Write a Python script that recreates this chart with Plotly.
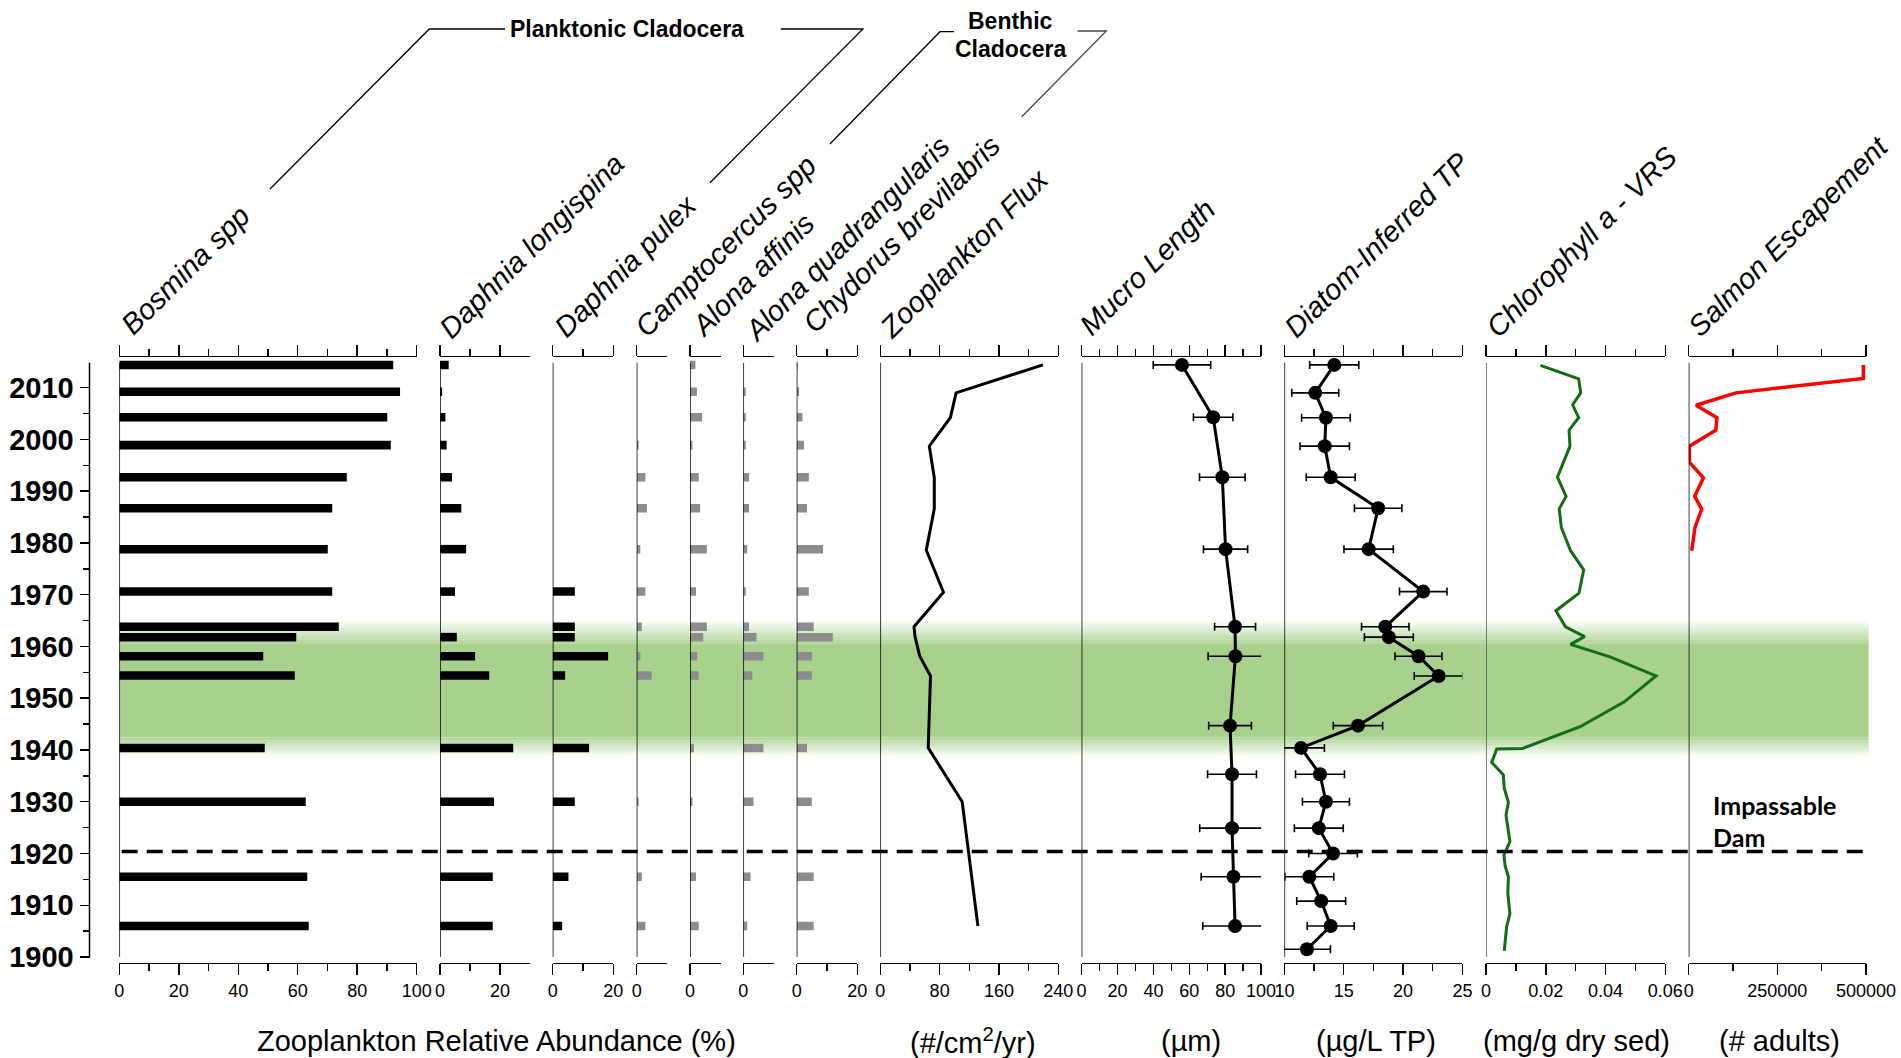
import plotly.graph_objects as go

W, H = 1901, 1058
FONT = "Liberation Sans, Arial, sans-serif"

# ---------------- data ----------------
years_zoo = [2014.4, 2009.2, 2004.3, 1998.9, 1992.7, 1986.7, 1978.8, 1970.6,
             1963.8, 1961.8, 1958.1, 1954.4, 1940.4, 1930.0, 1915.5, 1906.0]
bosmina = [92.1, 94.4, 90.1, 91.3, 76.5, 71.6, 70.1, 71.6, 73.8, 59.5, 48.4, 59.0, 48.9, 62.7, 63.2, 63.7]
daphnia_longispina = [2.9, 0.7, 1.8, 2.2, 4.0, 7.1, 8.7, 5.0, 0, 5.6, 11.7, 16.4, 24.4, 18.0, 17.6, 17.6]
daphnia_pulex = [0, 0, 0, 0, 0, 0, 0, 7.3, 7.3, 7.3, 18.3, 4.1, 12.0, 7.3, 5.2, 3.1]
camptocercus = [0, 0, 0, 0.65, 2.9, 3.4, 1.2, 2.9, 1.7, 0, 1.2, 5.0, 0, 0.65, 1.7, 2.9]
alona_affinis = [1.8, 2.3, 4.0, 0.8, 2.9, 3.4, 5.6, 2.0, 5.6, 4.4, 2.4, 2.9, 1.3, 0.8, 2.0, 2.9]
alona_quadrangularis = [0, 0.8, 0.8, 0.8, 1.9, 1.9, 1.3, 0.8, 1.9, 4.4, 6.7, 3.0, 6.7, 3.4, 2.4, 1.3]
chydorus = [0.3, 0.8, 1.9, 2.4, 4.0, 3.4, 8.7, 4.0, 5.6, 11.9, 5.0, 5.0, 3.4, 5.0, 5.6, 5.6]

flux_years = [2014.4, 2009.0, 2004.2, 1998.7, 1992.6, 1986.6, 1978.6, 1970.5,
              1963.8, 1961.8, 1958.1, 1954.3, 1940.4, 1930.0, 1906.0]
flux = [219.3, 102.2, 94.5, 66.1, 72.8, 72.8, 62.0, 85.2, 45.4, 47.0, 53.2, 67.7, 64.6, 110.4, 131.6]

mucro_years = [2014.4, 2004.3, 1992.7, 1978.8, 1963.8, 1958.1, 1944.7, 1935.3, 1924.9, 1915.5, 1906.0]
mucro = [55.9, 73.3, 78.4, 80.2, 85.5, 85.7, 82.7, 83.8, 83.8, 84.6, 85.5]
mucro_err = [16.0, 11.0, 12.7, 12.3, 11.4, 15.2, 11.9, 13.6, 18.0, 18.0, 18.0]

tp_years = [2014.4, 2009.0, 2004.2, 1998.7, 1992.7, 1986.7, 1978.8, 1970.6, 1963.8, 1961.8, 1958.1,
            1954.3, 1944.7, 1940.4, 1935.3, 1930.0, 1924.9, 1920.0, 1915.5, 1910.8, 1906.0, 1901.5]
tp = [14.2, 12.6, 13.5, 13.4, 13.9, 17.9, 17.1, 21.7, 18.5, 18.8, 21.3,
      23.0, 16.2, 11.4, 13.0, 13.5, 12.9, 14.1, 12.1, 13.1, 13.9, 11.9]
tp_err = [2.07, 1.98, 2.05, 2.08, 2.06, 2.0, 2.08, 2.0, 2.0, 2.06, 1.98,
          2.06, 2.08, 1.97, 2.06, 1.98, 2.06, 2.05, 2.06, 2.06, 1.98, 1.98]

chl_years = [2014.3, 2011.7, 2009.0, 2006.7, 2004.2, 2001.8, 1998.7, 1992.7, 1989.0, 1986.6, 1983.0,
             1978.5, 1974.8, 1970.3, 1966.9, 1963.8, 1961.9, 1960.4, 1958.0, 1954.3, 1949.3, 1944.5,
             1940.3, 1940.2, 1937.6, 1935.2, 1932.6, 1929.9, 1927.4, 1922.3, 1919.7, 1917.6, 1915.5,
             1912.3, 1908.4, 1905.8, 1901.2]
chl = [0.0182, 0.0310, 0.0317, 0.0290, 0.0310, 0.0278, 0.0281, 0.0239, 0.0268, 0.0245, 0.0252,
       0.0283, 0.0327, 0.0311, 0.0234, 0.0266, 0.0330, 0.0283, 0.0415, 0.0569, 0.0463, 0.0315,
       0.0122, 0.0036, 0.0019, 0.0058, 0.0061, 0.0075, 0.0067, 0.0080, 0.0060, 0.0064, 0.0075,
       0.0073, 0.0080, 0.0069, 0.0061]

salmon_years = [2014.4, 2011.8, 2009.0, 2006.6, 2004.2, 2001.8, 1998.7, 1995.6, 1992.6, 1989.0, 1986.6, 1983.0, 1978.5]
salmon = [492600, 492600, 133400, 20600, 79800, 76100, 1800, 1800, 41400, 16900, 36700, 17800, 8400]

year_ticks = [1900, 1910, 1920, 1930, 1940, 1950, 1960, 1970, 1980, 1990, 2000, 2010]
year_minor = [1905, 1915, 1925, 1935, 1945, 1955, 1965, 1975, 1985, 1995, 2005]

titles = ["Bosmina spp", "Daphnia longispina", "Daphnia pulex", "Camptocercus spp", "Alona affinis",
          "Alona quadrangularis", "Chydorus brevilabris", "Zooplankton Flux", "Mucro Length",
          "Diatom-Inferred TP", "Chlorophyll a - VRS", "Salmon Escapement"]
units = ["Zooplankton Relative Abundance (%)", "(#/cm<sup>2</sup>/yr)", "(µm)", "(µg/L TP)",
         "(mg/g dry sed)", "(# adults)"]
dam_year = 1920.4

# ---------------- layout geometry (pixels) ----------------
def px(x):
    return x / W

def py(y):
    return 1 - y / H

Y_TOP, Y_BOT = 357.3, 962.7
YRANGE = [1898.9, 2015.87]

panels = [
    # x0, x1, range, tickvals, ticktext, minor
    (119.3, 416.7, [0, 100], [0, 20, 40, 60, 80, 100], None, [10, 30, 50, 70, 90]),
    (440.0, 530.0, [0, 30], [0, 20], None, [10]),
    (552.7, 613.3, [0, 20], [0, 20], None, [10]),
    (636.7, 667.3, [0, 10.2], [0], None, []),
    (690.0, 720.7, [0, 10.2], [0], None, []),
    (743.3, 774.0, [0, 10.2], [0], None, []),
    (796.7, 857.3, [0, 20], [0, 20], None, [10]),
    (880.3, 1058.3, [0, 240], [0, 80, 160, 240], None, [40, 120, 200]),
    (1081.6, 1261.1, [0, 100], [0, 20, 40, 60, 80, 100], None, [10, 30, 50, 70, 90]),
    (1284.4, 1462.4, [10, 25], [10, 15, 20, 25], None, [12.5, 17.5, 22.5]),
    (1486.0, 1665.3, [0, 0.06], [0, 0.02, 0.04, 0.06], ["0", "0.02", "0.04", "0.06"], [0.01, 0.03, 0.05]),
    (1688.7, 1866.0, [0, 500000], [0, 250000, 500000], ["0", "250000", "500000"], [125000, 375000]),
]

fig = go.Figure()

def xa(i):
    return "x" if i == 0 else f"x{i+1}"

# bars
bar_series = [bosmina, daphnia_longispina, daphnia_pulex, camptocercus, alona_affinis,
              alona_quadrangularis, chydorus]
for i, vals in enumerate(bar_series):
    color = "black" if i < 3 else "#8c8c8c"
    fig.add_trace(go.Bar(x=vals, y=years_zoo, orientation="h", width=1.65,
                         marker=dict(color=color, line=dict(width=0)),
                         xaxis=xa(i), yaxis="y", showlegend=False))

fig.add_trace(go.Scatter(x=flux, y=flux_years, mode="lines", line=dict(color="black", width=3),
                         xaxis=xa(7), yaxis="y", showlegend=False))
fig.add_trace(go.Scatter(x=mucro, y=mucro_years, mode="lines+markers",
                         line=dict(color="black", width=3), marker=dict(color="black", size=14),
                         error_x=dict(type="data", array=mucro_err, color="black", thickness=1.6, width=4),
                         xaxis=xa(8), yaxis="y", showlegend=False))
fig.add_trace(go.Scatter(x=tp, y=tp_years, mode="lines+markers",
                         line=dict(color="black", width=3), marker=dict(color="black", size=14),
                         error_x=dict(type="data", array=tp_err, color="black", thickness=1.6, width=4),
                         xaxis=xa(9), yaxis="y", showlegend=False))
fig.add_trace(go.Scatter(x=chl, y=chl_years, mode="lines", line=dict(color="#146c14", width=3),
                         xaxis=xa(10), yaxis="y", showlegend=False))
fig.add_trace(go.Scatter(x=salmon, y=salmon_years, mode="lines", line=dict(color="#ff0000", width=3.5),
                         xaxis=xa(11), yaxis="y", showlegend=False))

layout = dict(
    width=W, height=H, autosize=False,
    margin=dict(l=0, r=0, t=0, b=0, pad=0),
    paper_bgcolor="white", plot_bgcolor="rgba(0,0,0,0)",
    font=dict(family=FONT, color="black"),
    barmode="overlay", showlegend=False,
)

for i, (x0, x1, rng, tv, tt, mn) in enumerate(panels):
    key = "xaxis" if i == 0 else f"xaxis{i+1}"
    ax = dict(domain=[px(x0), px(x1)], range=rng, anchor="y", side="bottom", automargin=False,
              showline=True, linecolor="black", linewidth=1.5, mirror="ticks",
              ticks="outside", ticklen=11, tickwidth=1.5, tickcolor="black",
              tickmode="array", tickvals=tv, showgrid=False, zeroline=False,
              tickfont=dict(family=FONT, size=18, color="black"), ticklabelstandoff=0,
              fixedrange=True)
    if tt is not None:
        ax["ticktext"] = tt
    if mn:
        ax["minor"] = dict(tickmode="array", tickvals=mn, ticklen=7, tickwidth=1.5,
                           tickcolor="black", ticks="outside", showgrid=False)
    layout[key] = ax

layout["yaxis"] = dict(domain=[py(Y_BOT), py(Y_TOP)], range=YRANGE, anchor="free", position=px(89.5),
                       side="left", showline=False, showgrid=False, zeroline=False, automargin=False,
                       ticks="outside", ticklen=10, tickwidth=1.5, tickcolor="black",
                       tickmode="array", tickvals=year_ticks,
                       tickfont=dict(family=FONT, size=29, color="black", weight="bold"),
                       ticklabelstandoff=0,
                       minor=dict(tickmode="array", tickvals=year_minor, ticklen=7, tickwidth=1.5,
                                  tickcolor="black", ticks="outside"),
                       fixedrange=True)

fig.update_layout(**layout)

shapes = []
# green band with soft edges
GREEN = "#A9D18E"
gx0, gx1 = px(120), px(1868.7)
top_fade = (1965.1, 1960.3)
bot_fade = (1942.7, 1938.7)
N = 14
for k in range(N):
    a = top_fade[0] + (top_fade[1] - top_fade[0]) * k / N
    b = top_fade[0] + (top_fade[1] - top_fade[0]) * (k + 1) / N
    shapes.append(dict(type="rect", xref="paper", yref="y", x0=gx0, x1=gx1, y0=b, y1=a,
                       fillcolor=GREEN, opacity=(k + 0.5) / N, line=dict(width=0), layer="below"))
shapes.append(dict(type="rect", xref="paper", yref="y", x0=gx0, x1=gx1, y0=bot_fade[0], y1=top_fade[1],
                   fillcolor=GREEN, line=dict(width=0), layer="below"))
for k in range(N):
    a = bot_fade[0] + (bot_fade[1] - bot_fade[0]) * k / N
    b = bot_fade[0] + (bot_fade[1] - bot_fade[0]) * (k + 1) / N
    shapes.append(dict(type="rect", xref="paper", yref="y", x0=gx0, x1=gx1, y0=b, y1=a,
                       fillcolor=GREEN, opacity=1 - (k + 0.5) / N, line=dict(width=0), layer="below"))

# panel baselines
for i, (x0, x1, rng, tv, tt, mn) in enumerate(panels):
    col = "#555555" if i == 10 else "black"
    shapes.append(dict(type="line", xref=xa(i), yref="y", x0=rng[0], x1=rng[0], y0=1900, y1=2014.8,
                       line=dict(color=col, width=1.5)))
# left year axis line
shapes.append(dict(type="line", xref="paper", yref="y", x0=px(89.5), x1=px(89.5), y0=1900, y1=2014.8,
                   line=dict(color="black", width=1.5)))
# dam line
shapes.append(dict(type="line", xref="paper", yref="y", x0=px(121.7), x1=px(1863), y0=dam_year, y1=dam_year,
                   line=dict(color="black", width=3.5, dash="16px,9px"), layer="above"))

# group brackets
def poly(pts, color="black"):
    path = "M " + " L ".join(f"{px(x)},{py(y)}" for x, y in pts)
    return dict(type="path", xref="paper", yref="paper", path=path, line=dict(color=color, width=1.3))

shapes.append(poly([(270, 189), (429.3, 29), (505, 29)]))
shapes.append(poly([(780.8, 29), (862.9, 29), (710, 182.7)]))
shapes.append(poly([(829.9, 144), (940, 31.7), (954, 31.7)]))
shapes.append(poly([(1077.6, 31), (1106.3, 31), (1021.8, 116.7)], color="#444444"))

fig.update_layout(shapes=shapes)

ann = []
title_pos = [(112, 344), (430, 347), (545, 346), (626, 346), (682, 346), (735, 351),
             (794, 341), (871, 347), (1071, 344), (1275, 346), (1477, 346), (1679, 346)]
for t, (x, y) in zip(titles, title_pos):
    ann.append(dict(text=f"<i>{t}</i>", x=px(x), y=py(y), xref="paper", yref="paper",
                    xanchor="left", yanchor="bottom", textangle=-45, showarrow=False,
                    font=dict(family=FONT, size=29, color="black")))

unit_pos = [496, 973, 1191, 1376, 1576, 1779]
for t, x in zip(units, unit_pos):
    ann.append(dict(text=t, x=px(x), y=py(1040.5), xref="paper", yref="paper",
                    xanchor="center", yanchor="middle", showarrow=False,
                    font=dict(family=FONT, size=29, color="black")))

ann.append(dict(text="<b>Planktonic Cladocera</b>", x=px(627), y=py(29), xref="paper", yref="paper",
                xanchor="center", yanchor="middle", showarrow=False,
                font=dict(family=FONT, size=23, color="black")))
ann.append(dict(text="<b>Benthic</b>", x=px(1010), y=py(20.6), xref="paper", yref="paper",
                xanchor="center", yanchor="middle", showarrow=False,
                font=dict(family=FONT, size=23, color="black")))
ann.append(dict(text="<b>Cladocera</b>", x=px(1010), y=py(48.5), xref="paper", yref="paper",
                xanchor="center", yanchor="middle", showarrow=False,
                font=dict(family=FONT, size=23, color="black")))
ann.append(dict(text="<b>Impassable</b>", x=px(1711), y=py(805), xref="paper", yref="paper",
                xanchor="left", yanchor="middle", showarrow=False,
                font=dict(family="Lato, Open Sans, sans-serif", size=25, color="black")))
ann.append(dict(text="<b>Dam</b>", x=px(1711), y=py(837), xref="paper", yref="paper",
                xanchor="left", yanchor="middle", showarrow=False,
                font=dict(family="Lato, Open Sans, sans-serif", size=25, color="black")))
fig.update_layout(annotations=ann)

fig.write_html("out.html", config={"displayModeBar": False, "staticPlot": True},
               post_script="document.body.style.margin='0';document.body.style.overflow='hidden';")
